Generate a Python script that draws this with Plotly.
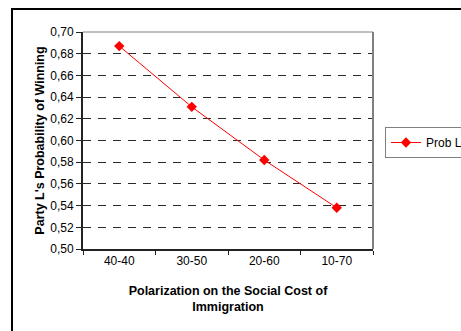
import plotly.graph_objects as go

categories = ["40-40", "30-50", "20-60", "10-70"]
prob_l = [0.687, 0.631, 0.582, 0.538]
y_ticks = [0.50, 0.52, 0.54, 0.56, 0.58, 0.60, 0.62, 0.64, 0.66, 0.68, 0.70]

W, H = 461, 331
L, T, R, B = 83, 32, 88, 82
pw, ph = W - L - R, H - T - B

fig = go.Figure()
fig.add_trace(go.Scatter(
    x=categories, y=prob_l, mode="lines+markers", name="Prob L",
    line=dict(color="#ff0000", width=1),
    marker=dict(symbol="diamond", size=8, color="#ff0000"),
))

fam = "Liberation Sans, Arial, sans-serif"
tick_font = dict(family=fam, size=12, color="#000000")
title_font = dict(family=fam, size=12.5, color="#000000")

fig.update_layout(
    template="none",
    width=W, height=H,
    margin=dict(l=L, r=R, t=T, b=B, pad=0, autoexpand=False),
    paper_bgcolor="#ffffff", plot_bgcolor="#ffffff",
    separators=",.",
    font=tick_font,
    showlegend=True,
    legend=dict(
        x=(385 - L) / pw, y=(H - B - 127) / ph, xanchor="left", yanchor="top",
        bordercolor="#808080", borderwidth=1, bgcolor="#ffffff",
        font=dict(family=fam, size=12),
        itemwidth=30, tracegroupgap=0,
    ),
    xaxis=dict(
        type="category", range=[-0.5, 3.5],
        showline=True, linecolor="#222222", linewidth=2,
        ticks="outside", tickson="boundaries", ticklen=4, tickcolor="#222222", tickwidth=1,
        showgrid=False, zeroline=False,
        tickfont=tick_font,
        title=dict(text="<b>Polarization on the Social Cost of<br>Immigration</b>",
                   font=title_font, standoff=19),
    ),
    yaxis=dict(
        range=[0.50, 0.70], tickvals=y_ticks, tickformat=".2f",
        showline=True, linecolor="#222222", linewidth=2,
        ticks="outside", ticklen=5, tickcolor="#222222", tickwidth=1,
        showgrid=True, gridcolor="#2a2a2a", gridwidth=1, griddash="8px,7px",
        zeroline=False,
        tickfont=tick_font,
        title=dict(text="<b>Party L's Probability of Winning</b>", font=title_font, standoff=3),
    ),
    shapes=[
        dict(type="line", xref="paper", yref="paper", x0=0, x1=1, y0=1, y1=1,
             line=dict(color="#808080", width=1)),
        dict(type="line", xref="paper", yref="paper", x0=1, x1=1, y0=0, y1=1,
             line=dict(color="#808080", width=2)),
        dict(type="rect", xref="paper", yref="paper",
             x0=(12 - L) / pw, x1=(W + 10 - L) / pw,
             y0=(H - B - (H + 10)) / ph, y1=(H - B - 9) / ph,
             line=dict(color="#000000", width=2), layer="below"),
    ],
)

fig.write_html("out.html", config={"displayModeBar": False},
               post_script="document.body.style.margin='0';")
